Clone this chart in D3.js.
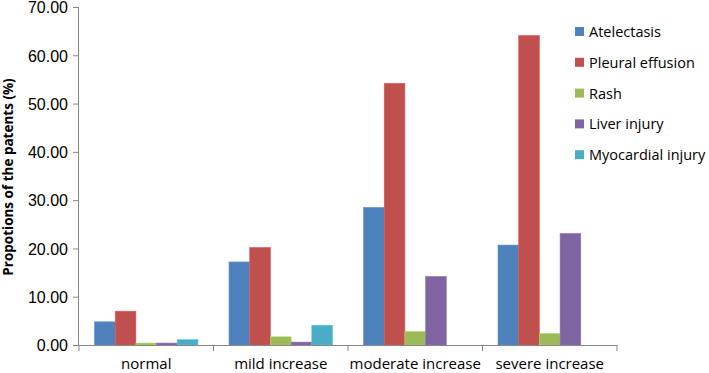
<!DOCTYPE html>
<html>
<head>
<meta charset="utf-8">
<script src="https://cdn.jsdelivr.net/npm/d3@7"></script>
<style>
  body { margin: 0; background: #fff; }
  svg { display: block; font-family: 'Open Sans', 'Liberation Sans', sans-serif; }
  .axis path, .axis line { stroke: #868686; }
  .axis text { fill: #000; font-size: 15px; }
</style>
</head>
<body>
<svg id="chart" width="709" height="373"></svg>
<script>
'use strict';

// categories on the x axis
const categories = ['normal', 'mild increase', 'moderate increase', 'severe increase'];

// series (legend order)
const seriesNames = ['Atelectasis', 'Pleural effusion', 'Rash', 'Liver injury', 'Myocardial injury'];
const seriesColors = ['#4F81BD', '#C0504D', '#9BBB59', '#8064A2', '#4BACC6'];

// values per series, one per category (null = no bar)
const atelectasis = [4.8, 17.2, 28.5, 20.7];
const pleuralEffusion = [7.0, 20.2, 54.2, 64.1];
const rash = [0.4, 1.7, 2.8, 2.4];
const liverInjury = [0.4, 0.6, 14.2, 23.1];
const myocardialInjury = [1.1, 4.1, null, null];

const yTicks = [0, 10, 20, 30, 40, 50, 60, 70];

const seriesValues = [atelectasis, pleuralEffusion, rash, liverInjury, myocardialInjury];

const svg = d3.select('#chart');
const margin = { top: 7, left: 79, right: 92, bottom: 28 };
const width = 709 - margin.left - margin.right;
const height = 373 - margin.top - margin.bottom;

const g = svg.append('g').attr('transform', `translate(${margin.left},${margin.top})`);

const x = d3.scaleBand().domain(categories).range([0, width]);
// Excel style gap width 150%: 5 bars + 1.5 bar widths of gap
const x1 = d3.scaleBand()
  .domain(seriesNames)
  .range([0, x.bandwidth()])
  .paddingInner(0)
  .paddingOuter(0.75);
const y = d3.scaleLinear().domain([0, 70]).range([height, 0]);

// bars
seriesNames.forEach((name, i) => {
  g.append('g')
    .selectAll('rect')
    .data(categories.map((c, j) => ({ cat: c, value: seriesValues[i][j] })).filter(d => d.value != null))
    .join('rect')
    .attr('x', d => x(d.cat) + x1(name))
    .attr('y', d => y(d.value))
    .attr('width', x1.bandwidth())
    .attr('height', d => y(0) - y(d.value))
    .attr('fill', seriesColors[i])
    .attr('stroke', d3.color(seriesColors[i]).brighter(0.4))
    .attr('stroke-width', 0.6);
});

// y axis
const yAxis = g.append('g')
  .attr('class', 'axis')
  .call(d3.axisLeft(y).tickValues(yTicks).tickFormat(d3.format('.2f')).tickSize(6).tickPadding(5));
yAxis.select('.domain').attr('d', `M-0.5,${height}V0`);
yAxis.selectAll('text').style('font-size', '16px').attr('dy', '0.36em');

// x axis with ticks at category boundaries
const xAxis = g.append('g')
  .attr('class', 'axis')
  .attr('transform', `translate(0,${height})`);
xAxis.append('path')
  .attr('d', `M0,0.5H${width}`)
  .attr('stroke', '#868686');
xAxis.selectAll('line')
  .data(d3.range(categories.length + 1))
  .join('line')
  .attr('x1', i => i * x.step())
  .attr('x2', i => i * x.step())
  .attr('y1', 0)
  .attr('y2', 6);
xAxis.selectAll('text')
  .data(categories)
  .join('text')
  .attr('x', d => x(d) + x.bandwidth() / 2)
  .attr('y', 24)
  .attr('text-anchor', 'middle')
  .text(d => d);

// y title
svg.append('text')
  .attr('transform', `translate(13,177) rotate(-90)`)
  .attr('text-anchor', 'middle')
  .attr('font-size', 13.5)
  .attr('font-weight', 'bold')
  .text('Propotions of the patents (%)');

// legend
const legend = svg.append('g').attr('transform', 'translate(575,27)');
seriesNames.forEach((name, i) => {
  const row = legend.append('g').attr('transform', `translate(0,${i * 30.8})`);
  row.append('rect')
    .attr('width', 9)
    .attr('height', 9)
    .attr('fill', seriesColors[i]);
  row.append('text')
    .attr('x', 14)
    .attr('y', 10)
    .attr('font-size', 14.5)
    .text(name);
});
</script>
</body>
</html>
